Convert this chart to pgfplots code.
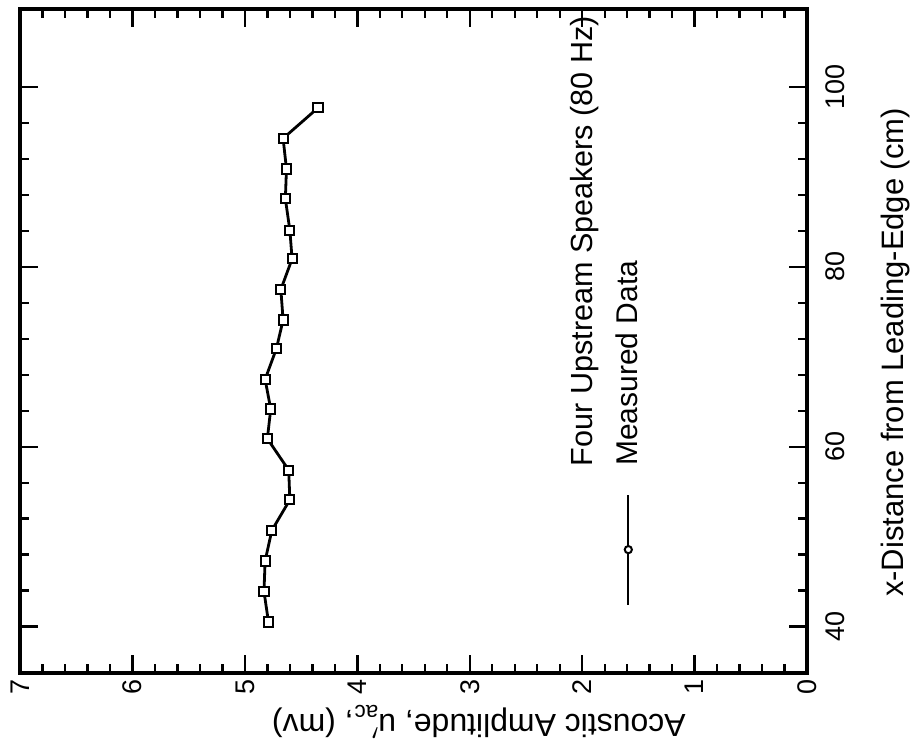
\documentclass[border=0pt]{standalone}
\usepackage{pgfplots}
\pgfplotsset{compat=1.18}
\usepackage{fontspec}
\setmainfont{Liberation Sans}
\pgfplotstableread{
dist amp
40.5 4.79
43.9 4.83
47.3 4.82
50.7 4.76
54.1 4.60
57.4 4.61
60.9 4.80
64.2 4.77
67.5 4.82
70.9 4.72
74.1 4.66
77.5 4.68
80.9 4.58
84.1 4.60
87.6 4.64
90.9 4.63
94.3 4.66
97.7 4.35
}\datatable
\begin{document}
\begin{tikzpicture}
\begin{scope}[rotate=90,transform shape]
\begin{axis}[
  clip=false,
  scale only axis,
  width=332.5pt, height=394pt,
  xmin=34.8, xmax=108.7,
  ymin=0, ymax=7,
  xtick={40,60,80,100},
  minor x tick num=4,
  ytick={0,1,2,3,4,5,6,7},
  minor y tick num=4,
  tick align=inside,
  major tick length=9pt,
  minor tick length=4.5pt,
  axis line style={line width=2pt},
  every tick/.style={black, line width=1.2pt},
  tick label style={font=\fontsize{13.5}{16}\selectfont, inner sep=0pt},
  xticklabel shift=9pt,
  yticklabel shift=3pt,
  /pgf/number format/assume math mode=true,
  xlabel={x-Distance from Leading-Edge (cm)},
  ylabel={Acoustic Amplitude, u$'_{\mathrm{ac}}$, (mv)},
  xlabel style={at={([yshift=-44pt]axis description cs:0.483,0)}, anchor=center, inner sep=0pt,
    font=\fontsize{15.5}{18}\selectfont},
  ylabel style={at={([xshift=-24.5pt]axis description cs:0,0.417)}, anchor=center, inner sep=0pt,
    font=\fontsize{16}{19}\selectfont},
  legend style={at={(axis cs:42.3,1.59)}, anchor=west, draw=none, fill=none, inner sep=0pt,
    font=\fontsize{15}{18}\selectfont,
    /tikz/every odd column/.append style={column sep=12pt}},
  legend image code/.code={
    \draw[mark repeat=2,mark phase=2,#1, line width=0.9pt, mark=*, mark size=1.8pt]
      plot coordinates {(0pt,0pt) (27.5pt,0pt) (55pt,0pt)};
  },
]
\addplot[black, line width=1.4pt, mark=square*, mark size=2.3pt,
  mark options={solid, fill=white, line width=1pt}] table[x=dist, y=amp] {\datatable};
\addlegendentry{Measured Data}
\node[anchor=west, inner sep=0pt, font=\fontsize{15.3}{19}\selectfont] at (axis cs:57.8,1.98) {Four Upstream Speakers (80 Hz)};
\path ([xshift=-37pt,yshift=-55pt]axis description cs:0,0) -- ([xshift=4.5pt,yshift=10pt]axis description cs:1,1);
\end{axis}
\end{scope}
\end{tikzpicture}
\end{document}
